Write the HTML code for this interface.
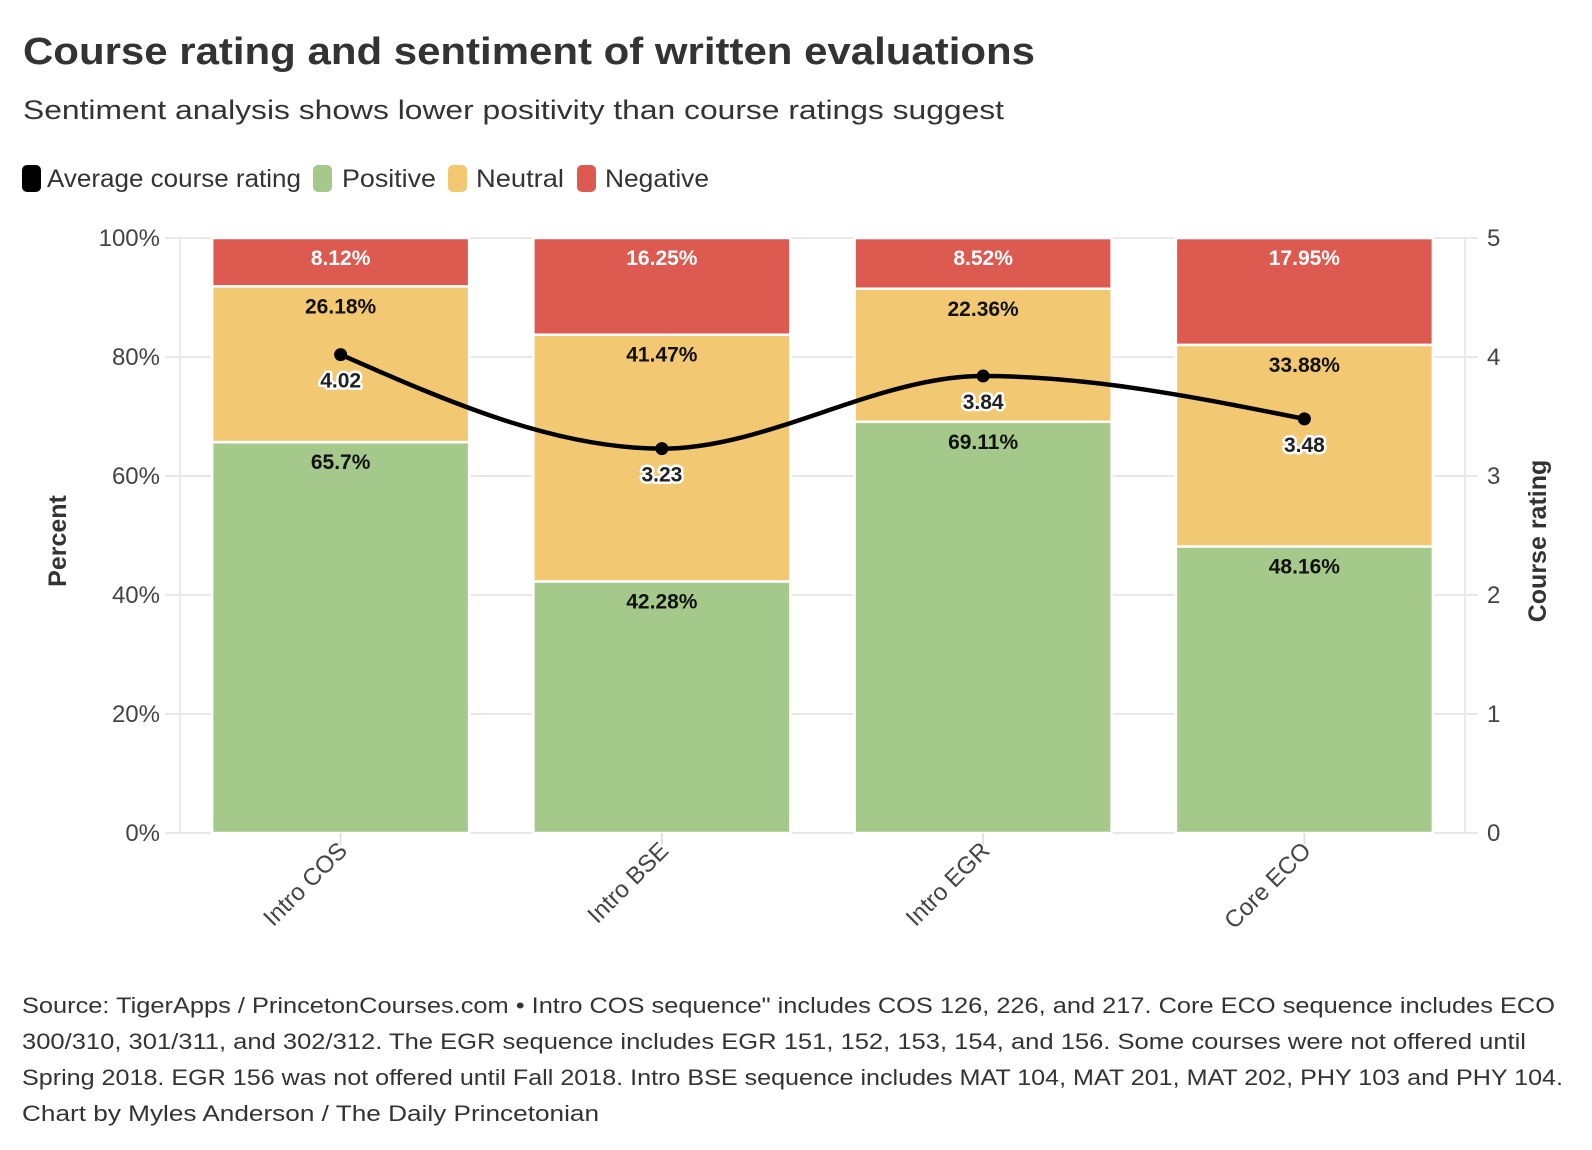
<!DOCTYPE html>
<html><head><meta charset="utf-8"><style>
html,body{margin:0;padding:0;background:#fff;}
svg{display:block;font-family:"Liberation Sans",sans-serif;}
</style></head><body>
<svg id="chart" width="1592" height="1150" viewBox="0 0 1592 1150">
<text x="23" y="64" font-size="38" font-weight="bold" fill="#333" textLength="1012" lengthAdjust="spacingAndGlyphs">Course rating and sentiment of written evaluations</text>
<text x="23" y="119" font-size="27" fill="#333" textLength="981" lengthAdjust="spacingAndGlyphs">Sentiment analysis shows lower positivity than course ratings suggest</text>
<g font-size="25" fill="#333">
<g><rect x="22" y="165" width="19" height="27" rx="5" fill="#000"/><text x="47" y="187" textLength="254" lengthAdjust="spacingAndGlyphs">Average course rating</text></g>
<g><rect x="313" y="165" width="19" height="27" rx="5" fill="#a5c98a"/><text x="342" y="187" textLength="94" lengthAdjust="spacingAndGlyphs">Positive</text></g>
<g><rect x="448" y="165" width="19" height="27" rx="5" fill="#f3c873"/><text x="476" y="187" textLength="88" lengthAdjust="spacingAndGlyphs">Neutral</text></g>
<g><rect x="577" y="165" width="19" height="27" rx="5" fill="#dc5a50"/><text x="605" y="187" textLength="104" lengthAdjust="spacingAndGlyphs">Negative</text></g>
</g>
<g id="plot"></g>
<text transform="translate(66,541) rotate(-90)" text-anchor="middle" font-size="25" font-weight="bold" fill="#333">Percent</text>
<text transform="translate(1546,541) rotate(-90)" text-anchor="middle" font-size="25" font-weight="bold" fill="#333">Course rating</text>
<g font-size="22.5" fill="#333">
<text x="22" y="1013" textLength="1533" lengthAdjust="spacingAndGlyphs">Source: TigerApps / PrincetonCourses.com • Intro COS sequence" includes COS 126, 226, and 217. Core ECO sequence includes ECO</text>
<text x="22" y="1049" textLength="1504" lengthAdjust="spacingAndGlyphs">300/310, 301/311, and 302/312. The EGR sequence includes EGR 151, 152, 153, 154, and 156. Some courses were not offered until</text>
<text x="22" y="1085" textLength="1541" lengthAdjust="spacingAndGlyphs">Spring 2018. EGR 156 was not offered until Fall 2018. Intro BSE sequence includes MAT 104, MAT 201, MAT 202, PHY 103 and PHY 104.</text>
<text x="22" y="1121" textLength="577" lengthAdjust="spacingAndGlyphs">Chart by Myles Anderson / The Daily Princetonian</text>
</g>
</svg>
<script>
const categories = ["Intro COS","Intro BSE","Intro EGR","Core ECO"];
const positive = [65.7, 42.28, 69.11, 48.16];
const neutral = [26.18, 41.47, 22.36, 33.88];
const negative = [8.12, 16.25, 8.52, 17.95];
const rating = [4.02, 3.23, 3.84, 3.48];
const leftTicks = [0,20,40,60,80,100];
const rightTicks = [0,1,2,3,4,5];

const NS="http://www.w3.org/2000/svg";
const X0=180, X1=1465, Y0=833, Y1=238;
const band=(X1-X0)/categories.length, bw=band*0.8;
const xc=i=>X0+band*(i+0.5);
const yP=v=>Y0-(v/100)*(Y0-Y1);
const yR=v=>Y0-(v/5)*(Y0-Y1);
const plot=document.getElementById('plot');
function mk(tag,attrs,parent){const e=document.createElementNS(NS,tag);for(const k in attrs)e.setAttribute(k,attrs[k]);(parent||plot).appendChild(e);return e;}

leftTicks.forEach((t,i)=>{
  const g=mk('line',{x1:165,x2:1478,y1:yP(t),y2:yP(t),stroke:'#e8e8e8','stroke-width':2});
  
  
  const lt=mk('text',{x:160,y:yP(t)+8,'text-anchor':'end','font-size':24,fill:'#444'});
  lt.textContent=t+'%';
  
  
});
rightTicks.forEach(t=>{
  const rt=mk('text',{x:1487,y:yR(t)+8,'font-size':24,fill:'#444'});
  rt.textContent=t;
  
  
});
[X0,X1].forEach(x=>{const a=mk('line',{x1:x,x2:x,y1:Y1,y2:Y0,stroke:'#eaeaea','stroke-width':2});

});

categories.forEach((c,i)=>{
  const x=xc(i)-bw/2;
  const segs=[[0,positive[i],'#a5c98a','#111','positive'],[positive[i],positive[i]+neutral[i],'#f3c873','#111','neutral'],[positive[i]+neutral[i],positive[i]+neutral[i]+negative[i],'#dc5a50','#fff','negative']];
  segs.forEach(s=>{
    const top=yP(Math.min(s[1],100)), bot=yP(s[0]);
    const r=mk('rect',{x:x,y:top,width:bw,height:bot-top,fill:s[2],stroke:'#fff','stroke-width':2.5});
    
    
    const t=mk('text',{x:xc(i),y:top+27,'text-anchor':'middle','font-size':21,'font-weight':'bold',fill:s[3]});
    t.textContent=(s[1]-s[0]).toFixed(2).replace(/0$/,'').replace(/\.$/,'')+'%';
    
    
  });
  const tl=mk('text',{'text-anchor':'end','font-size':24,fill:'#444',transform:`translate(${xc(i)+8},852) rotate(-45)`});
  tl.textContent=c;
  
  
  const tk=mk('line',{x1:xc(i),x2:xc(i),y1:Y0,y2:Y0+12,stroke:'#e0e0e0','stroke-width':2});
  
  
});

const px=rating.map((v,i)=>xc(i)), py=rating.map(v=>yR(v));
const n=px.length, m=[], d=[];
for(let i=0;i<n-1;i++)d.push((py[i+1]-py[i])/(px[i+1]-px[i]));
for(let i=0;i<n;i++){
  if(i===0)m.push(d[0]);else if(i===n-1)m.push(d[n-2]);
  else m.push(d[i-1]*d[i]<=0?0:(2/(1/d[i-1]+1/d[i])));
}
m[0]=(3*d[0]-m[1])/2; m[n-1]=(3*d[n-2]-m[n-2])/2;
let path=`M${px[0]},${py[0]}`;
for(let i=0;i<n-1;i++){const h=(px[i+1]-px[i])/3;
  path+=`C${px[i]+h},${py[i]+h*m[i]} ${px[i+1]-h},${py[i+1]-h*m[i+1]} ${px[i+1]},${py[i+1]}`;}
const ln=mk('path',{d:path,fill:'none',stroke:'#000','stroke-width':4.5});


rating.forEach((v,i)=>{
  const c=mk('circle',{cx:px[i],cy:py[i],r:6.5,fill:'#000'});
  
  
  const t=mk('text',{x:px[i],y:py[i]+33,'text-anchor':'middle','font-size':21,'font-weight':'bold',fill:'#222',stroke:'#fff','stroke-width':5,'paint-order':'stroke','stroke-linejoin':'round'});
  t.textContent=v.toFixed(2);
  
  
});
</script>
</body></html>
